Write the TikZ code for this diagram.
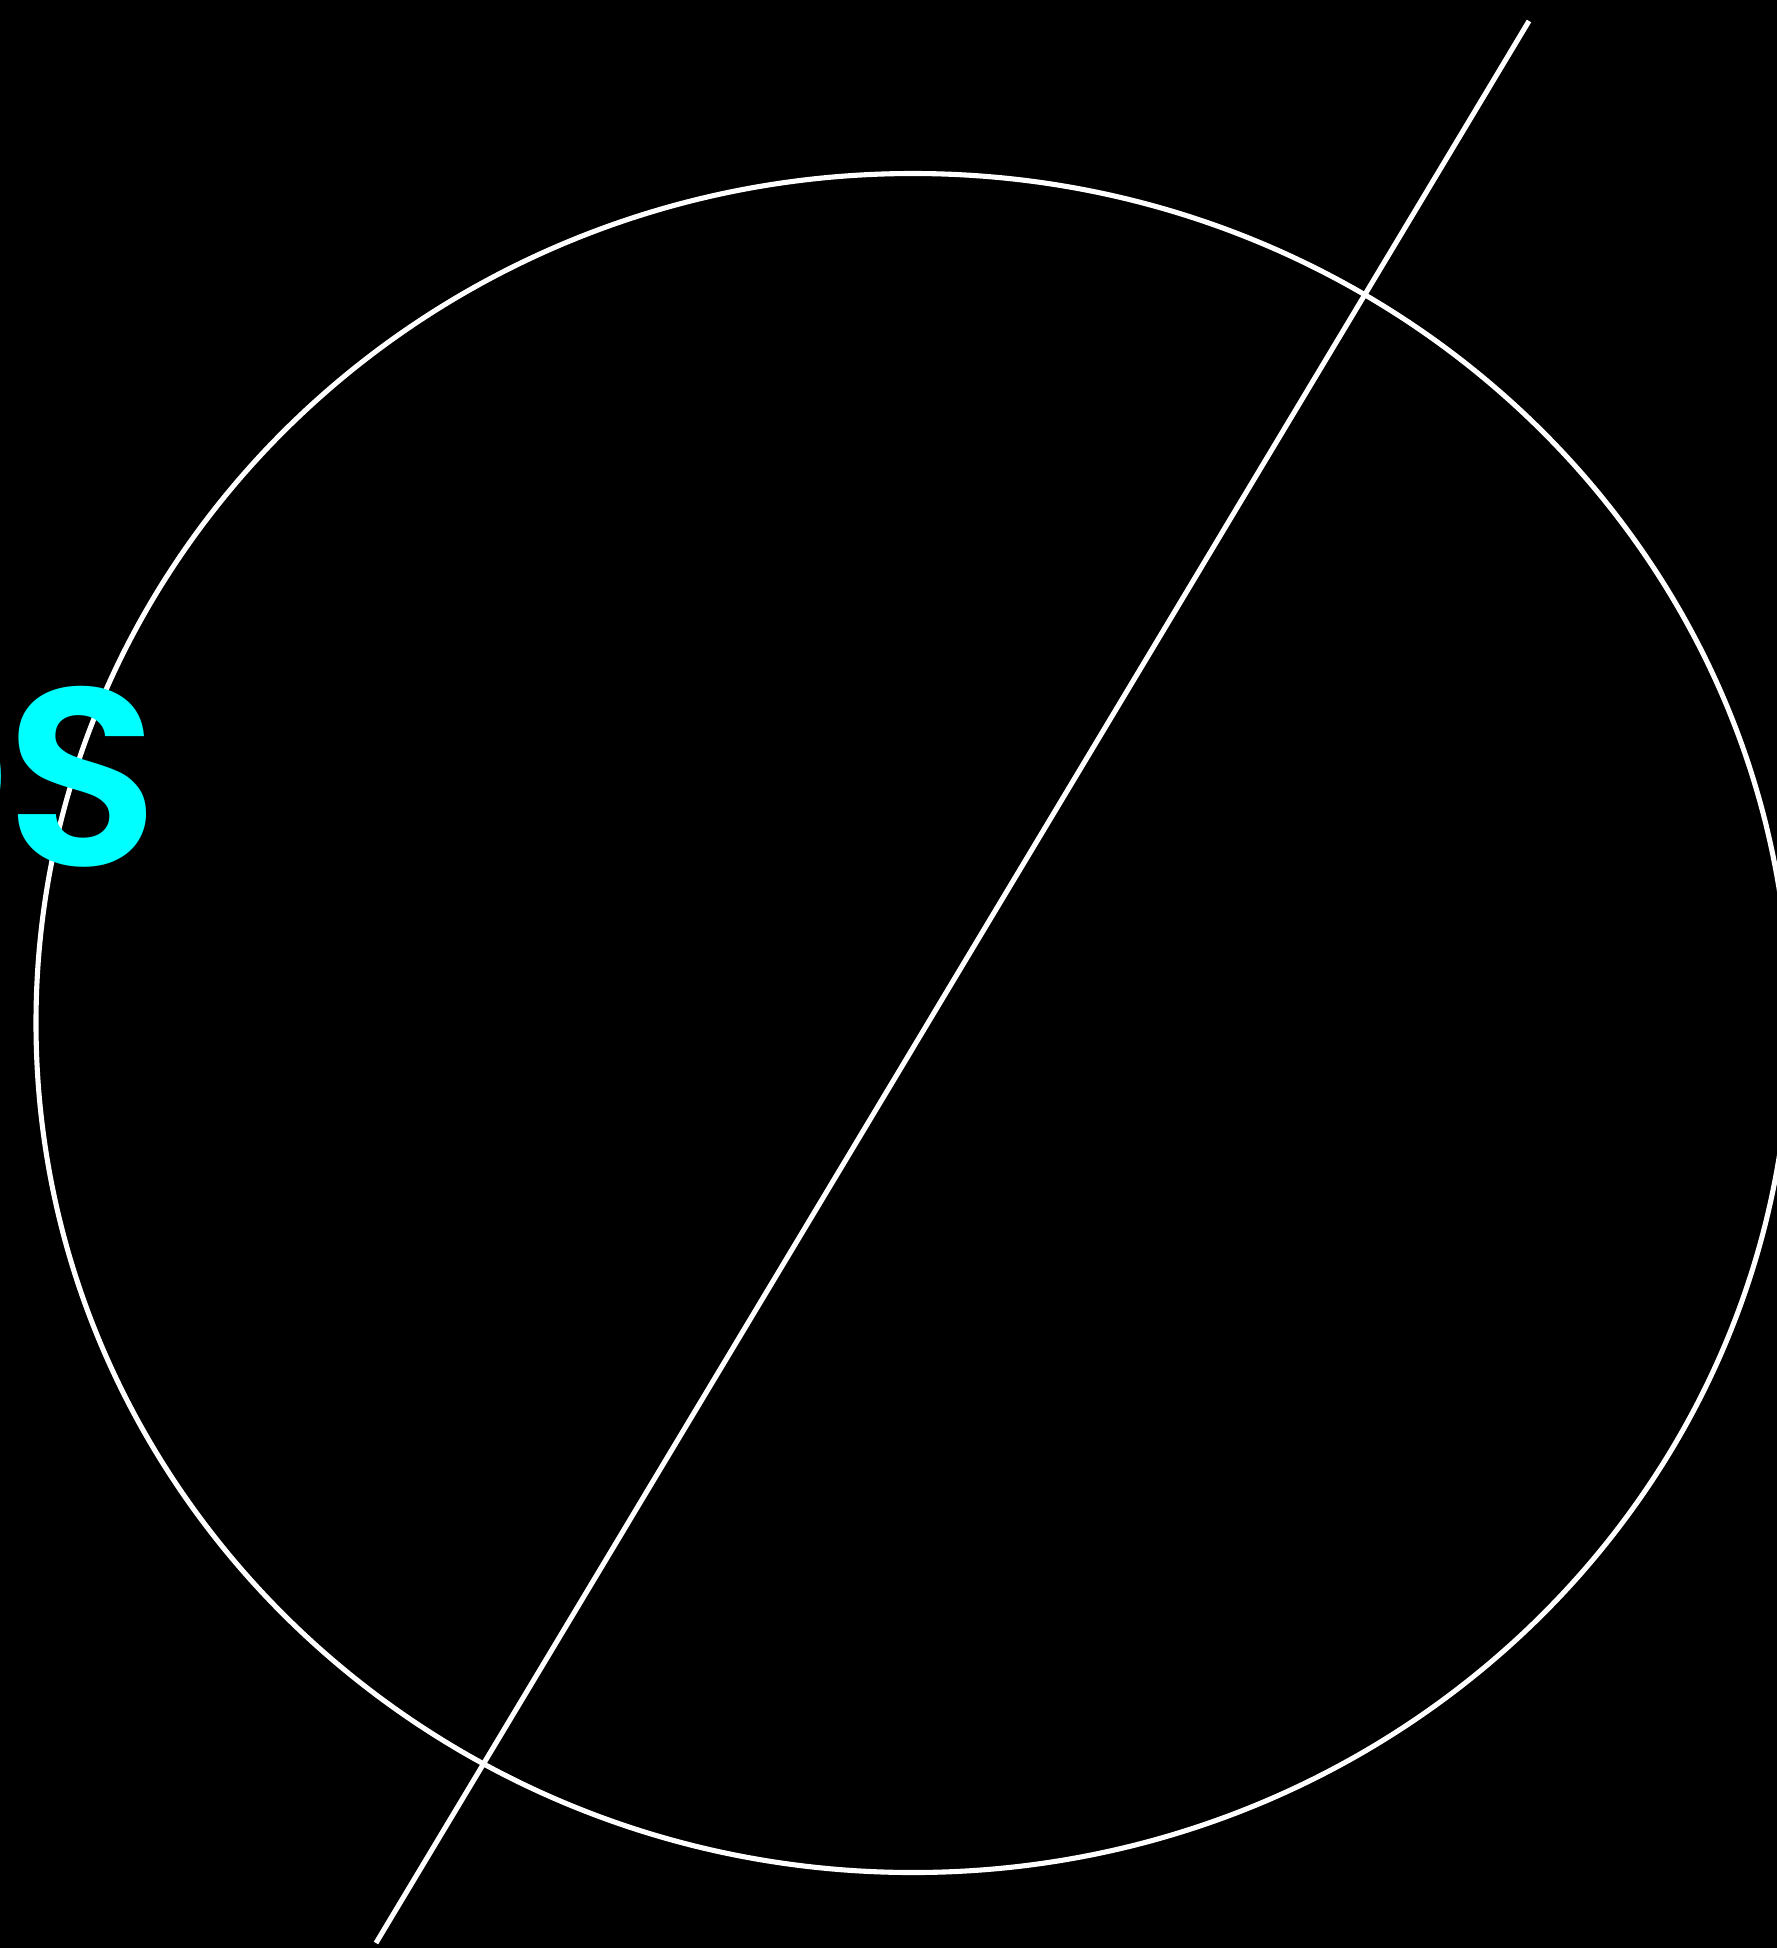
\documentclass[tikz,border=0pt]{standalone}
\usepackage{fontspec}
\setmainfont{Poppins}
\newfontfamily\semib{Poppins}[UprightFont=* SemiBold]
\definecolor{cyantext}{RGB}{0,255,255}
\begin{document}
\begin{tikzpicture}[x=0.01cm,y=-0.01cm,
  outline/.style={draw=white,line width=1.45pt},
  bigletter/.style={text=cyantext,font=\fontsize{72}{72}\selectfont\semib,inner sep=0pt}]
\fill[black] (0,0) rectangle (1777,1948);
\useasboundingbox (0,0) rectangle (1777,1948);
\begin{scope}
\clip (0,0) rectangle (1777,1948);
\draw[outline] (913,1023) ellipse [x radius=877, y radius=849.5];
\coordinate (ltop) at (1529,21);
\coordinate (lbot) at (376,1943);
\draw[outline] (ltop) -- (lbot);
\node[bigletter,anchor=base west] (wordS) at (5,865) {S};
\node[bigletter,anchor=base east] (wordO) at (11,865) {O};
\end{scope}
\end{tikzpicture}
\end{document}
